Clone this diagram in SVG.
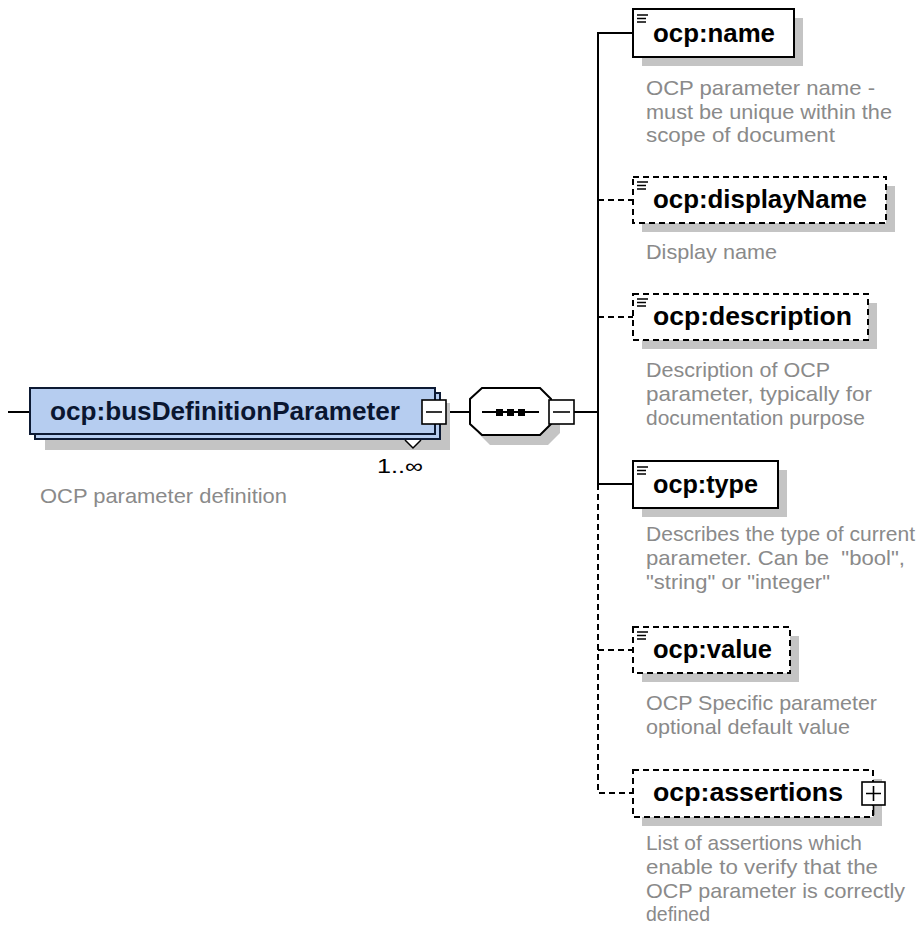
<svg xmlns="http://www.w3.org/2000/svg" width="924" height="932" viewBox="0 0 924 932">
<style>
.bg{fill:#ffffff}
.ln{fill:none;stroke:#000;stroke-width:2}
.dl{fill:none;stroke:#000;stroke-width:2;stroke-dasharray:6 4}
.box{fill:#fff;stroke:#000;stroke-width:2}
.dbox{fill:#fff;stroke:#000;stroke-width:2;stroke-dasharray:6 4}
.sh{fill:#c4c4c4}
.ttl{font-family:"Liberation Sans",Arial,sans-serif;font-weight:bold;font-size:25px;fill:#000}
.desc{font-family:"Liberation Sans",Arial,sans-serif;font-size:21px;fill:#8a8a8a;white-space:pre}
.ic{stroke:#000;stroke-width:1.5}
.mb{fill:#b6cdf0;stroke:#0d1a33;stroke-width:2}
.btn{fill:#fff;stroke:#000;stroke-width:1.6}
</style>
<rect class="bg" x="0" y="0" width="924" height="932"/>

<g id="connectors">
  <path class="ln" d="M8,412 H30"/>
  <path class="ln" d="M446,412 H470"/>
  <path class="ln" d="M574,412 H598"/>
  <path class="ln" d="M633,33 H598 V484 H633"/>
  <path class="dl" d="M598,484 V793 H633"/>
  <path class="dl" d="M598,200 H633"/>
  <path class="dl" d="M598,317 H633"/>
  <path class="dl" d="M598,650 H633"/>
</g>

<g id="busDefinitionParameter">
  <rect class="sh" x="45" y="403" width="405" height="47"/>
  <rect class="mb" x="35" y="393" width="405" height="46"/>
  <rect class="mb" x="30" y="388" width="405" height="46"/>
  <text class="ttl" x="50" y="420" textLength="350" lengthAdjust="spacingAndGlyphs" style="fill:#0a1630">ocp:busDefinitionParameter</text>
  <rect class="btn" x="422" y="400" width="24" height="24"/>
  <path class="ln" d="M426,412 H442" style="stroke-width:1.6"/>
  <path d="M405,440 L413,448 L421,440" fill="#fff" stroke="#000" stroke-width="1.5"/>
  <text x="377" y="473" font-family="'Liberation Sans',Arial,sans-serif" font-size="20" textLength="46" lengthAdjust="spacingAndGlyphs" fill="#000">1..∞</text>
  <text class="desc" x="40" y="503" textLength="247" lengthAdjust="spacingAndGlyphs">OCP parameter definition</text>
</g>

<g id="sequence">
  <polygon class="sh" points="490,396 548,396 560,408 560,433 548,445 490,445 478,433 478,408"/>
  <polygon class="box" points="482,388 540,388 551,399 551,424 540,435 482,435 470,424 470,399"/>
  <path class="ln" d="M482,412 H539"/>
  <rect x="496" y="409" width="7" height="7" fill="#000"/>
  <rect x="507" y="409" width="7" height="7" fill="#000"/>
  <rect x="518" y="409" width="7" height="7" fill="#000"/>
  <rect class="btn" x="549" y="400" width="25" height="24"/>
  <path class="ln" d="M553,412 H570" style="stroke-width:1.6"/>
</g>

<g id="name">
  <rect class="sh" x="642" y="18" width="161" height="48"/>
  <rect class="box" x="633" y="9" width="161" height="48"/>
  <path class="ic" d="M637,15 H648 M637,18.5 H646 M637,22 H646"/>
  <text class="ttl" x="653" y="42" textLength="122" lengthAdjust="spacingAndGlyphs">ocp:name</text>
  <text class="desc" x="646" y="95" textLength="229" lengthAdjust="spacingAndGlyphs">OCP parameter name -</text>
  <text class="desc" x="646" y="119" textLength="246" lengthAdjust="spacingAndGlyphs">must be unique within the</text>
  <text class="desc" x="646" y="142" textLength="189" lengthAdjust="spacingAndGlyphs">scope of document</text>
</g>

<g id="displayName">
  <rect class="sh" x="642" y="186" width="253" height="46"/>
  <rect class="dbox" x="633" y="177" width="253" height="46"/>
  <path class="ic" d="M637,182 H648 M637,185.5 H646 M637,189 H646"/>
  <text class="ttl" x="653" y="208" textLength="214" lengthAdjust="spacingAndGlyphs">ocp:displayName</text>
  <text class="desc" x="646" y="259" textLength="131" lengthAdjust="spacingAndGlyphs">Display name</text>
</g>

<g id="description">
  <rect class="sh" x="642" y="303" width="235" height="46"/>
  <rect class="dbox" x="633" y="294" width="235" height="46"/>
  <path class="ic" d="M637,299 H648 M637,302.5 H646 M637,306 H646"/>
  <text class="ttl" x="653" y="325" textLength="199" lengthAdjust="spacingAndGlyphs">ocp:description</text>
  <text class="desc" x="646" y="377" textLength="184" lengthAdjust="spacingAndGlyphs">Description of OCP</text>
  <text class="desc" x="646" y="401" textLength="226" lengthAdjust="spacingAndGlyphs">parameter, typically for</text>
  <text class="desc" x="646" y="425" textLength="219" lengthAdjust="spacingAndGlyphs">documentation purpose</text>
</g>

<g id="type">
  <rect class="sh" x="642" y="470" width="145" height="47"/>
  <rect class="box" x="633" y="461" width="145" height="47"/>
  <path class="ic" d="M637,467 H648 M637,470.5 H646 M637,474 H646"/>
  <text class="ttl" x="653" y="493" textLength="105" lengthAdjust="spacingAndGlyphs">ocp:type</text>
  <text class="desc" x="646" y="541" textLength="269" lengthAdjust="spacingAndGlyphs">Describes the type of current</text>
  <text class="desc" x="646" y="565" textLength="259" lengthAdjust="spacingAndGlyphs">parameter. Can be  "bool",</text>
  <text class="desc" x="646" y="589" textLength="184" lengthAdjust="spacingAndGlyphs">"string" or "integer"</text>
</g>

<g id="value">
  <rect class="sh" x="642" y="636" width="157" height="46"/>
  <rect class="dbox" x="633" y="627" width="157" height="46"/>
  <path class="ic" d="M637,632 H648 M637,635.5 H646 M637,639 H646"/>
  <text class="ttl" x="653" y="658" textLength="119" lengthAdjust="spacingAndGlyphs">ocp:value</text>
  <text class="desc" x="646" y="710" textLength="231" lengthAdjust="spacingAndGlyphs">OCP Specific parameter</text>
  <text class="desc" x="646" y="734" textLength="204" lengthAdjust="spacingAndGlyphs">optional default value</text>
</g>

<g id="assertions">
  <rect class="sh" x="642" y="779" width="240" height="47"/>
  <rect class="dbox" x="633" y="770" width="240" height="47"/>
  <text class="ttl" x="653" y="801" textLength="190" lengthAdjust="spacingAndGlyphs">ocp:assertions</text>
  <path class="ln" d="M873.5,805 V815" style="stroke-width:1.6"/>
  <rect class="btn" x="862" y="782" width="23" height="23"/>
  <path class="ln" d="M866,793.5 H881 M873.5,786 V801" style="stroke-width:1.6"/>
  <text class="desc" x="646" y="850" textLength="216" lengthAdjust="spacingAndGlyphs">List of assertions which</text>
  <text class="desc" x="646" y="874" textLength="232" lengthAdjust="spacingAndGlyphs">enable to verify that the</text>
  <text class="desc" x="646" y="898" textLength="259" lengthAdjust="spacingAndGlyphs">OCP parameter is correctly</text>
  <text class="desc" x="646" y="921" textLength="64" lengthAdjust="spacingAndGlyphs">defined</text>
</g>
</svg>
